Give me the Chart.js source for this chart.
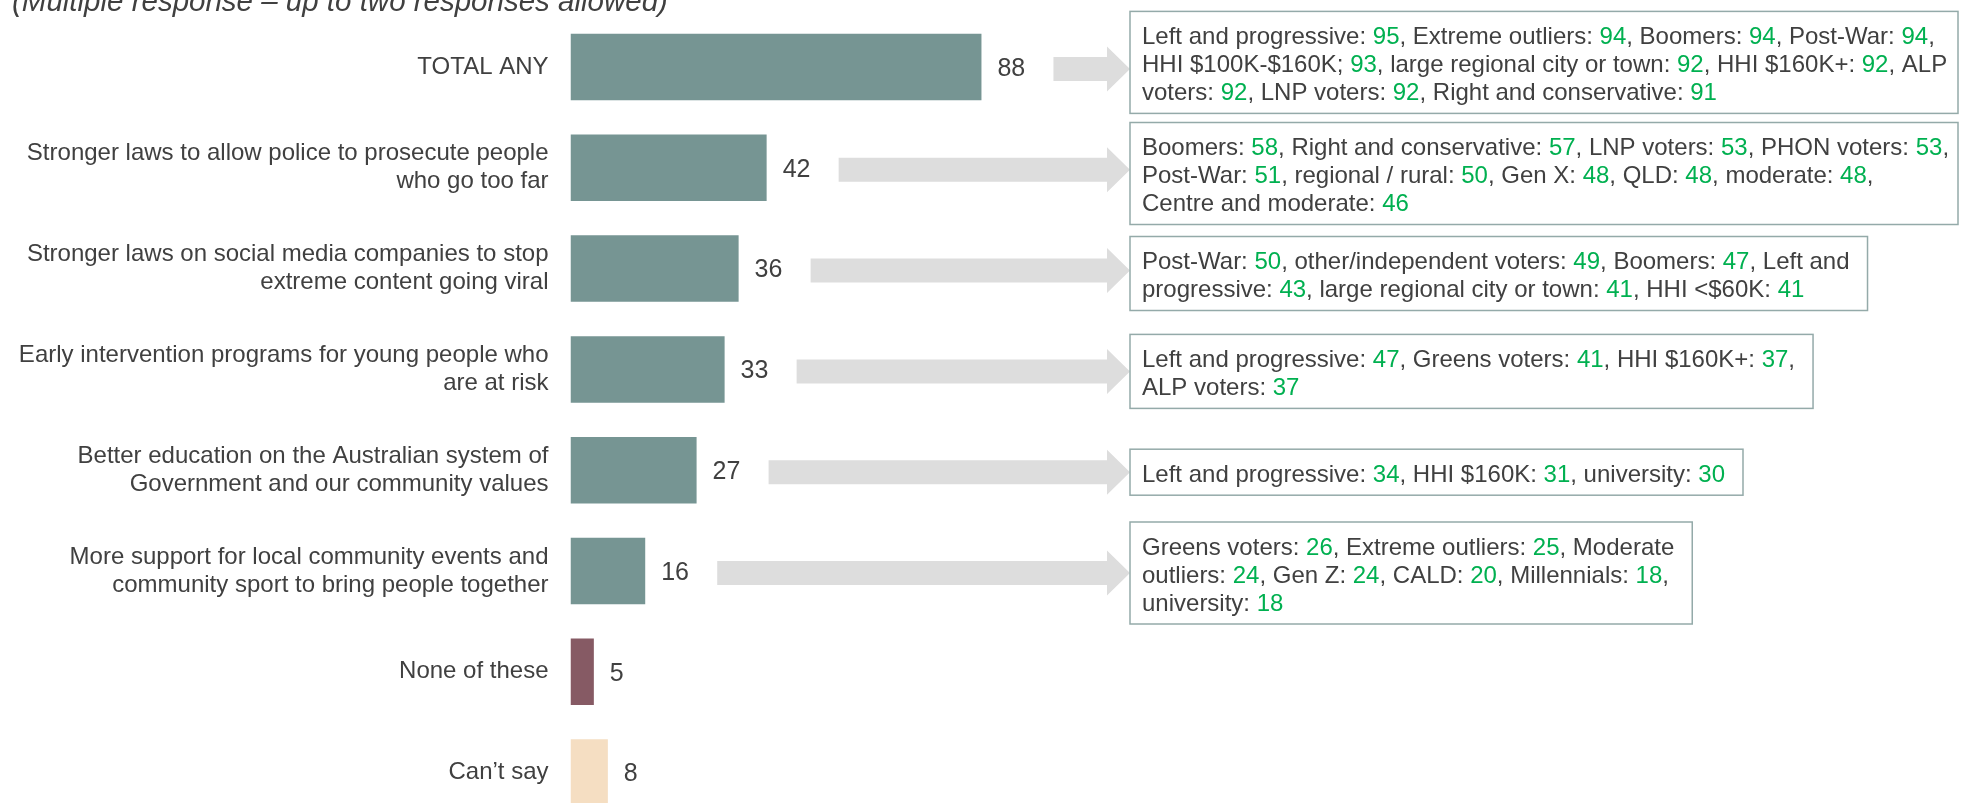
<!DOCTYPE html>
<html>
<head>
<meta charset="utf-8">
<script src="https://cdn.jsdelivr.net/npm/chart.js@4.4.0/dist/chart.umd.min.js"></script>
<style>
  html, body { margin: 0; padding: 0; background: #fff; overflow: hidden; }
  #wrap { position: relative; width: 1966px; height: 823px; }
  #title {
    position: absolute; left: 12px; top: -14px;
    font: italic 29.5px "Liberation Sans", Arial, sans-serif;
    line-height: 30px; color: #404040; white-space: nowrap;
  }
</style>
</head>
<body>
<div id="wrap">
  <canvas id="chart"></canvas>
  <div id="title">(Multiple response – up to two responses allowed)</div>
</div>
<script>
// Chart data
const categories = [
    'TOTAL ANY',
    ['Stronger laws to allow police to prosecute people', 'who go too far'],
    ['Stronger laws on social media companies to stop', 'extreme content going viral'],
    ['Early intervention programs for young people who', 'are at risk'],
    ['Better education on the Australian system of', 'Government and our community values'],
    ['More support for local community events and', 'community sport to bring people together'],
    'None of these',
    "Can\u2019t say"
];
const values = [88, 42, 36, 33, 27, 16, 5, 8];

// Subgroup call-outs, one list of lines per bar; {n} marks a green number
const subgroupNotes = [
    [
        'Left and progressive: {95}, Extreme outliers: {94}, Boomers: {94}, Post-War: {94},',
        'HHI $100K-$160K; {93}, large regional city or town: {92}, HHI $160K+: {92}, ALP',
        'voters: {92}, LNP voters: {92}, Right and conservative: {91}'
    ],
    [
        'Boomers: {58}, Right and conservative: {57}, LNP voters: {53}, PHON voters: {53},',
        'Post-War: {51}, regional / rural: {50}, Gen X: {48}, QLD: {48}, moderate: {48},',
        'Centre and moderate: {46}'
    ],
    [
        'Post-War: {50}, other/independent voters: {49}, Boomers: {47}, Left and',
        'progressive: {43}, large regional city or town: {41}, HHI <$60K: {41}'
    ],
    [
        'Left and progressive: {47}, Greens voters: {41}, HHI $160K+: {37},',
        'ALP voters: {37}'
    ],
    [
        'Left and progressive: {34}, HHI $160K: {31}, university: {30}'
    ],
    [
        'Greens voters: {26}, Extreme outliers: {25}, Moderate',
        'outliers: {24}, Gen Z: {24}, CALD: {20}, Millennials: {18},',
        'university: {18}'
    ],
    null,
    null
];

const FONT = '"Liberation Sans", Arial, sans-serif';
const TEXT = '#404040';
const GREEN = '#00B050';
const barColors = ['#769593', '#769593', '#769593', '#769593', '#769593', '#769593', '#865A64', '#F5DEC2'];

const BOX_LEFT = 1130;
const LINE_H = 28;

// Value labels, arrows and call-out boxes
const calloutPlugin = {
    id: 'callouts',
    afterDatasetsDraw(chart) {
        const ctx = chart.ctx;
        const bars = chart.getDatasetMeta(0).data;
        ctx.save();

        // value labels (text sits a touch below the bar centre, as in the slide)
        ctx.font = '25px ' + FONT;
        ctx.fillStyle = TEXT;
        ctx.textAlign = 'left';
        ctx.textBaseline = 'middle';
        bars.forEach((bar, i) => ctx.fillText(String(values[i]), bar.x + 16, bar.y + 2));

        // lay out boxes around each bar centre, pushing neighbours apart
        ctx.font = '24px ' + FONT;
        const boxes = [];
        subgroupNotes.forEach((lines, i) => {
            if (!lines) return;
            const h = lines.length * LINE_H + 18;
            const w = Math.max(...lines.map(l => ctx.measureText(l.replace(/[{}]/g, '')).width)) + 30;
            boxes.push({ i, lines, h, w: Math.min(w, chart.width - 8 - BOX_LEFT), top: bars[i].y + 2 - h / 2 });
        });
        for (let k = 1; k < boxes.length; k++) {
            const overlap = boxes[k - 1].top + boxes[k - 1].h + 12 - boxes[k].top;
            if (overlap > 0) {
                boxes[k - 1].top -= overlap / 2;
                boxes[k].top += overlap / 2;
            }
        }

        boxes.forEach(b => {
            const bar = bars[b.i];
            // arrow
            const x0 = bar.x + 72;
            const y = bar.y + 2;
            ctx.fillStyle = '#DDDDDD';
            ctx.beginPath();
            ctx.moveTo(x0, y - 12);
            ctx.lineTo(BOX_LEFT - 23, y - 12);
            ctx.lineTo(BOX_LEFT - 23, y - 22.5);
            ctx.lineTo(BOX_LEFT, y);
            ctx.lineTo(BOX_LEFT - 23, y + 22.5);
            ctx.lineTo(BOX_LEFT - 23, y + 12);
            ctx.lineTo(x0, y + 12);
            ctx.closePath();
            ctx.fill();

            // box
            ctx.fillStyle = '#FFFFFF';
            ctx.fillRect(BOX_LEFT, b.top, b.w, b.h);
            ctx.strokeStyle = '#94AAA9';
            ctx.lineWidth = 1.5;
            ctx.strokeRect(BOX_LEFT, b.top, b.w, b.h);

            // text with green numbers
            ctx.textBaseline = 'alphabetic';
            b.lines.forEach((line, li) => {
                let x = BOX_LEFT + 12;
                const by = b.top + 32.6 + li * LINE_H;
                line.split(/(\{\d+\})/).forEach(part => {
                    if (!part) return;
                    const isNum = part.startsWith('{');
                    const txt = isNum ? part.slice(1, -1) : part;
                    ctx.fillStyle = isNum ? GREEN : TEXT;
                    ctx.fillText(txt, x, by);
                    x += ctx.measureText(txt).width;
                });
            });
        });
        ctx.restore();
    }
};

new Chart(document.getElementById('chart').getContext('2d'), {
    type: 'bar',
    data: {
        labels: categories,
        datasets: [{
            data: values,
            backgroundColor: barColors,
            barPercentage: 0.66,
            categoryPercentage: 1
        }]
    },
    options: {
        indexAxis: 'y',
        responsive: true,
        maintainAspectRatio: false,
        animation: false,
        layout: { padding: { top: 16.6, right: 928.5, bottom: 0, left: 0 } },
        plugins: {
            legend: { display: false },
            tooltip: { enabled: false }
        },
        scales: {
            x: { min: 0, max: 100, display: false },
            y: {
                grid: { display: false, drawTicks: false },
                border: { display: false },
                ticks: {
                    color: TEXT,
                    font: { family: FONT, size: 24, lineHeight: 1.17 },
                    padding: 22,
                    autoSkip: false
                },
                afterFit(scale) {
                    // fixed label column; labels sit at category centres so no extra end padding
                    scale.width = 570.5;
                    scale.paddingTop = 0;
                    scale.paddingBottom = 0;
                }
            }
        }
    },
    plugins: [calloutPlugin]
});
</script>
</body>
</html>
